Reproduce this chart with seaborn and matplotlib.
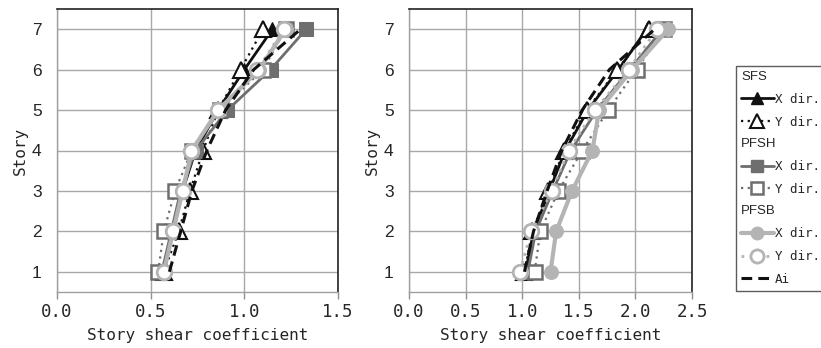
import matplotlib
matplotlib.use("Agg")
import matplotlib.pyplot as plt
from matplotlib.lines import Line2D
import seaborn as sns
import pandas as pd

# Story levels
stories = [1, 2, 3, 4, 5, 6, 7]

# Left model: story shear coefficients
left_sfs_x = [0.57, 0.62, 0.67, 0.74, 0.86, 1.00, 1.15]
left_sfs_y = [0.57, 0.65, 0.71, 0.78, 0.86, 0.98, 1.10]
left_pfsh_x = [0.56, 0.61, 0.66, 0.74, 0.91, 1.14, 1.33]
left_pfsh_y = [0.54, 0.57, 0.63, 0.72, 0.87, 1.10, 1.22]
left_pfsb_x = [0.57, 0.62, 0.67, 0.72, 0.86, 1.08, 1.22]
left_pfsb_y = [0.57, 0.62, 0.675, 0.715, 0.86, 1.07, 1.21]
left_ai = [0.60, 0.66, 0.72, 0.80, 0.90, 1.05, 1.30]

# Right model: story shear coefficients
right_sfs_x = [1.03, 1.10, 1.24, 1.38, 1.58, 1.85, 2.10]
right_sfs_y = [1.02, 1.09, 1.23, 1.37, 1.57, 1.84, 2.12]
right_pfsh_x = [1.05, 1.12, 1.27, 1.43, 1.66, 1.95, 2.24]
right_pfsh_y = [1.11, 1.16, 1.32, 1.53, 1.76, 2.01, 2.25]
right_pfsb_x = [1.25, 1.30, 1.44, 1.62, 1.68, 1.97, 2.29]
right_pfsb_y = [0.98, 1.08, 1.26, 1.41, 1.64, 1.94, 2.19]
right_ai = [1.02, 1.10, 1.22, 1.35, 1.53, 1.77, 2.17]

left_xticks = [0.0, 0.5, 1.0, 1.5]
right_xticks = [0.0, 0.5, 1.0, 1.5, 2.0, 2.5]
x_label = "Story shear coefficient"
y_label = "Story"

BLACK = "#111111"
DARK = "#6e6e6e"
LIGHT = "#b4b4b4"
DOT = (0, (1, 2))

styles = {
    "SFS X": dict(color=BLACK, linestyle="-", linewidth=2.0, marker="^",
                  markersize=10, markerfacecolor=BLACK, markeredgecolor=BLACK),
    "SFS Y": dict(color=BLACK, linestyle=DOT, linewidth=1.6, marker="^",
                  markersize=11, markerfacecolor="white", markeredgecolor=BLACK,
                  markeredgewidth=1.5),
    "PFSH X": dict(color=DARK, linestyle="-", linewidth=2.0, marker="s",
                   markersize=9.5, markerfacecolor=DARK, markeredgecolor=DARK),
    "PFSH Y": dict(color=DARK, linestyle=DOT, linewidth=1.6, marker="s",
                   markersize=10, markerfacecolor="white", markeredgecolor=DARK,
                   markeredgewidth=1.8),
    "PFSB X": dict(color=LIGHT, linestyle="-", linewidth=3.0, marker="o",
                   markersize=10, markerfacecolor=LIGHT, markeredgecolor=LIGHT),
    "PFSB Y": dict(color=LIGHT, linestyle=DOT, linewidth=2.0, marker="o",
                   markersize=10.5, markerfacecolor="white", markeredgecolor=LIGHT,
                   markeredgewidth=2.0),
    "Ai": dict(color=BLACK, linestyle=(0, (3.5, 2)), linewidth=2.2, marker=None),
}

sns.set_theme(style="white")
plt.rcParams["font.family"] = ["DejaVu Sans Mono", "DejaVu Sans"]

fig = plt.figure(figsize=(8.21, 3.48), dpi=100)
ax_l = fig.add_axes([57 / 821, 56 / 348, 281 / 821, 283 / 348])
ax_r = fig.add_axes([409 / 821, 56 / 348, 283 / 821, 283 / 348])

panels = [
    (ax_l, [left_sfs_x, left_sfs_y, left_pfsh_x, left_pfsh_y,
            left_pfsb_x, left_pfsb_y, left_ai], left_xticks),
    (ax_r, [right_sfs_x, right_sfs_y, right_pfsh_x, right_pfsh_y,
            right_pfsb_x, right_pfsb_y, right_ai], right_xticks),
]
names = ["SFS X", "SFS Y", "PFSH X", "PFSH Y", "PFSB X", "PFSB Y", "Ai"]

for ax, series, xticks in panels:
    for name, vals in zip(names, series):
        df = pd.DataFrame({"coef": vals, "story": stories})
        sns.lineplot(data=df, x="coef", y="story", sort=False, estimator=None,
                     ax=ax, zorder=3, **styles[name])
    ax.set_xlim(xticks[0], xticks[-1])
    ax.set_ylim(0.5, 7.5)
    ax.set_xticks(xticks)
    ax.set_xticklabels([f"{t:.1f}" for t in xticks])
    ax.set_yticks(stories)
    ax.set_yticklabels([str(s) for s in stories], family="Liberation Sans")
    ax.grid(True, color="#a8a8a8", linewidth=1.0)
    ax.set_axisbelow(True)
    ax.tick_params(axis="x", which="major", direction="out", length=5,
                   width=1.0, color="#909090", labelsize=12.5, pad=3, bottom=True)
    ax.tick_params(axis="y", length=0, labelsize=12.5, pad=11)
    for side in ["top", "right"]:
        ax.spines[side].set_color("#222222")
        ax.spines[side].set_linewidth(1.2)
    for side in ["left", "bottom"]:
        ax.spines[side].set_color("#a0a0a0")
        ax.spines[side].set_linewidth(1.0)
    ax.set_xlabel(x_label, fontsize=11.5, labelpad=5)
    ax.set_ylabel(y_label, fontsize=11.5, labelpad=3)

# Grouped legend with section headers
blank = Line2D([], [], linestyle="none")
handles, labels = [], []
groups = [("SFS", ["SFS X", "SFS Y"]), ("PFSH", ["PFSH X", "PFSH Y"]),
          ("PFSB", ["PFSB X", "PFSB Y"])]
for head, keys in groups:
    handles.append(blank)
    labels.append(head)
    for k, lab in zip(keys, ["X dir.", "Y dir."]):
        st = dict(styles[k])
        st["markersize"] = st["markersize"] * 0.9
        handles.append(Line2D([], [], **st))
        labels.append(lab)
handles.append(Line2D([], [], **styles["Ai"]))
labels.append("Ai")

leg = fig.legend(handles, labels, loc="upper left",
                 bbox_to_anchor=(736 / 821, 1 - 66 / 348),
                 frameon=True, fancybox=False, edgecolor="#333333",
                 fontsize=9, handlelength=2.6, handletextpad=0.1,
                 labelspacing=0.78, borderpad=0.4, borderaxespad=0.0)
leg.get_frame().set_linewidth(1.0)
header_names = {"SFS", "PFSH", "PFSB"}
for txt in leg.get_texts():
    if txt.get_text() in header_names:
        txt.set_family("Liberation Sans")
        txt.set_fontsize(9.5)

# Pull section headers to the left edge of the legend box
try:
    for col in leg._legend_handle_box.get_children():
        for row in col.get_children():
            kids = row.get_children()
            if len(kids) == 2 and kids[1].get_children()[0].get_text() in header_names:
                kids[0].width = 0
                row.sep = 0
except Exception:
    pass

fig.savefig("out.png", dpi=100)
